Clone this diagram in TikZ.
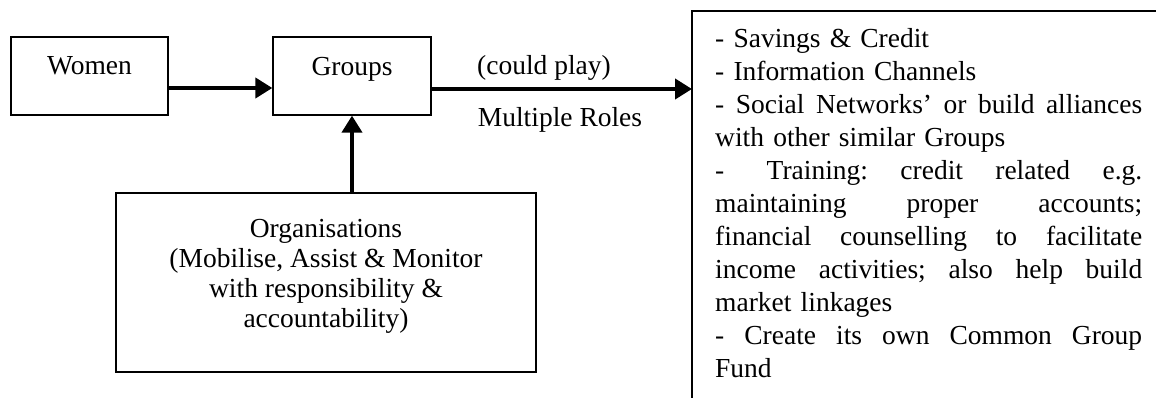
\documentclass[tikz,border=0pt]{standalone}
\usepackage{fontspec}
\setmainfont{Liberation Serif}
\usetikzlibrary{arrows.meta}
\newcommand{\jline}[1]{\leavevmode\hbox to 427pt{#1}}
\begin{document}
\begin{tikzpicture}[x=1pt,y=-1pt,
  box/.style={draw, line width=1.3pt, inner sep=0pt},
  lbl/.style={font=\fontsize{27.5}{30}\selectfont, inner sep=0pt, anchor=base},
  flow/.style={line width=4pt, -{Triangle[length=17pt,width=20pt]}},
  txt/.style={font=\fontsize{27.5}{30}\selectfont, inner sep=0pt}
]
\node[box, minimum width=157pt, minimum height=78pt] (women) at (89.5,76) {};
\node[box, minimum width=158pt, minimum height=78pt] (groups) at (352,76) {};
\node[box, minimum width=420pt, minimum height=179pt] (org) at (326,282.5) {};

\node[lbl] (womentxt) at (89.5,75) {Women};
\node[lbl] (groupstxt) at (352,76) {Groups};
\node[lbl] (could) at (544,75) {(could play)};
\node[lbl] (multi) at (560,127) {Multiple Roles};
\node[txt, align=center, anchor=north] (orgtxt) at (326,219)
  {Organisations\\(Mobilise, Assist \& Monitor\\with responsibility \&\\accountability)};

\coordinate (rbtl) at (692,11);
\draw[line width=1.3pt] (692,398) -- (rbtl) -- (1156,11);
\node[font=\fontsize{27.5}{33}\selectfont, inner sep=0pt, anchor=north west,
      align=left, text width=427pt] (roles) at (715,28.5)
  {- Savings \& Credit\\
   - Information Channels\\
   \jline{-\hfill Social\hfill Networks'\hfill or\hfill build\hfill alliances}\\
   with other similar Groups\\
   \jline{-\hspace{10pt}\hfill Training:\hfill credit\hfill related\hfill e.g.}\\
   \jline{maintaining\hfill proper\hfill accounts;}\\
   \jline{financial\hfill counselling\hfill to\hfill facilitate}\\
   \jline{income\hfill activities;\hfill also\hfill help\hfill build}\\
   market linkages\\
   \jline{-\hfill Create\hfill its\hfill own\hfill Common\hfill Group}\\
   Fund};

\draw[flow] ([yshift=-12pt]women.east) -- ([yshift=-12pt]groups.west);
\draw[flow] ([yshift=-13pt]groups.east) -- ([yshift=-13pt]groups.east -| rbtl);
\draw[flow] (groups.south |- org.north) -- (groups.south);

\pgfresetboundingbox
\useasboundingbox (0,0) rectangle (1156,398);
\end{tikzpicture}
\end{document}
